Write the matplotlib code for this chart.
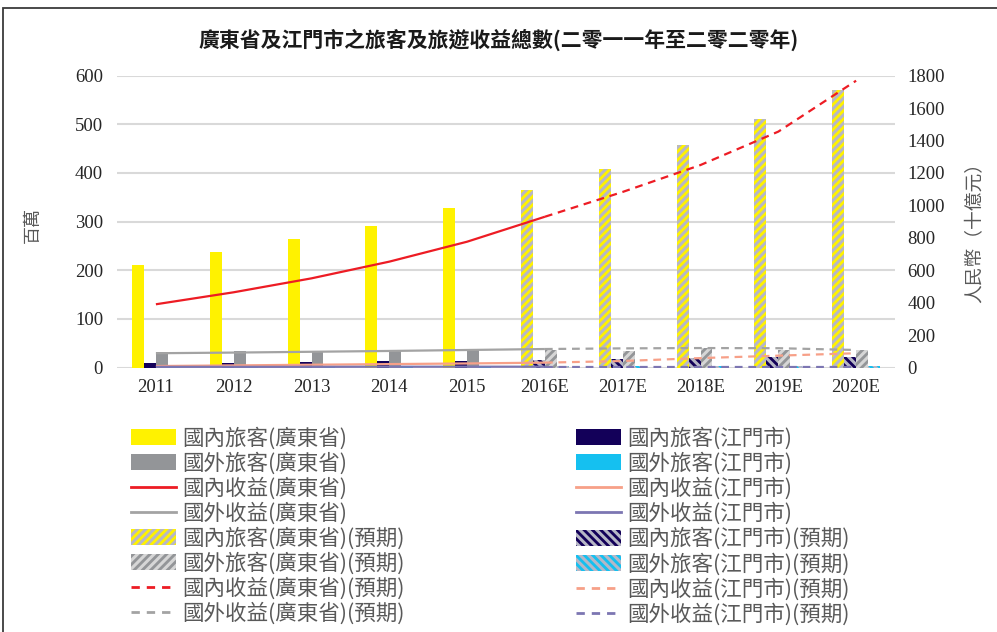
import matplotlib

matplotlib.use("Agg")
import matplotlib.pyplot as plt
from matplotlib import patches
from matplotlib.lines import Line2D
import numpy as np

# ---- data -------------------------------------------------------------
YEARS = ["2011", "2012", "2013", "2014", "2015",
         "2016E", "2017E", "2018E", "2019E", "2020E"]
N_ACTUAL = 5  # first five years are actual, rest are forecasts (bars)

# visitors, millions (left axis)
dom_visitors_gd = [211, 237, 264, 291, 328, 365, 408, 458, 511, 571]
dom_visitors_jm = [9, 9, 11, 13, 13, 15, 17.5, 20, 22, 22]
for_visitors_gd = [31, 34, 32.5, 35, 37, 36, 34.5, 39.5, 37, 36]
for_visitors_jm = [2, 2, 2, 2.5, 2.5, 2.5, 2.5, 3, 3, 3]

# revenue, RMB billions (right axis)
dom_revenue_gd = [390, 464, 550, 653, 776, 930, 1083, 1249, 1455, 1769]
dom_revenue_jm = [9, 13, 17, 21, 25, 30, 40, 58, 73, 88]
for_revenue_gd = [88, 92, 97, 102, 108, 114, 118, 120, 119, 108]
for_revenue_jm = [4, 4, 4, 5, 5, 5, 5, 5, 5, 5]

LEGEND_GD = ["國內旅客(廣東省)", "國外旅客(廣東省)", "國內收益(廣東省)", "國外收益(廣東省)",
             "國內旅客(廣東省)(預期)", "國外旅客(廣東省)(預期)",
             "國內收益(廣東省)(預期)", "國外收益(廣東省)(預期)"]
LEGEND_JM = ["國內旅客(江門市)", "國外旅客(江門市)", "國內收益(江門市)", "國外收益(江門市)",
             "國內旅客(江門市)(預期)", "國外旅客(江門市)(預期)",
             "國內收益(江門市)(預期)", "國外收益(江門市)(預期)"]

TITLE = "廣東省及江門市之旅客及旅遊收益總數(二零一一年至二零二零年)"

# ---- style ------------------------------------------------------------
C = {
    "yellow": "#FFF200",
    "navy": "#130059",
    "gray_bar": "#939598",
    "cyan": "#15C0F0",
    "red": "#ED1C24",
    "gray_line": "#A3A3A3",
    "salmon": "#F7A088",
    "purple": "#7C76B2",
    "stripe": "#B7B7C6",
    "stripe_light": "#D6D6D6",
    "grid": "#D9D9D9",
    "text": "#595959",
}
CJK = ["Noto Sans CJK TC", "DejaVu Sans"]
SERIF = "Liberation Serif"

plt.rcParams["hatch.linewidth"] = 2.2

fig = plt.figure(figsize=(9.97, 6.32), dpi=100)
ax = fig.add_axes([117 / 997, 1 - 367.5 / 632, (895 - 117) / 997, (367.5 - 75.7) / 632])
ax2 = ax.twinx()

x = np.arange(len(YEARS))
w = 0.154
act = x[:N_ACTUAL]
fc = x[N_ACTUAL:]

bar_specs = [
    (dom_visitors_gd, -1.5, C["yellow"], C["stripe"], "////"),
    (dom_visitors_jm, -0.5, C["navy"], C["stripe"], "\\\\\\\\"),
    (for_visitors_gd, 0.5, C["gray_bar"], C["stripe_light"], "////"),
    (for_visitors_jm, 1.5, C["cyan"], C["stripe"], "\\\\\\\\"),
]
for vals, off, col, stripe, hatch in bar_specs:
    v = np.array(vals, dtype=float)
    ax.bar(act + off * w, v[:N_ACTUAL], width=w, color=col, linewidth=0, zorder=2)
    ax.bar(fc + off * w, v[N_ACTUAL:], width=w, facecolor=col, edgecolor=stripe,
           hatch=hatch, linewidth=0, zorder=2)

line_specs = [
    (dom_revenue_gd, C["red"], 1.6),
    (for_revenue_gd, C["gray_line"], 1.6),
    (dom_revenue_jm, C["salmon"], 1.6),
    (for_revenue_jm, C["purple"], 1.6),
]
split = N_ACTUAL  # solid through 2016E, dashed afterwards
for vals, col, lw in line_specs:
    v = np.array(vals, dtype=float)
    ax2.plot(x[:split + 1], v[:split + 1], color=col, lw=lw, solid_capstyle="butt")
    ax2.plot(x[split:], v[split:], color=col, lw=lw, dashes=(3.5, 2.6))

ax.set_xlim(-0.5, len(YEARS) - 0.5)
ax.set_ylim(0, 600)
ax2.set_ylim(0, 1800)
ax.set_yticks(np.arange(0, 601, 100))
ax2.set_yticks(np.arange(0, 1801, 200))
ax.set_xticks(x)
ax.set_xticklabels(YEARS)
ax.grid(axis="y", color=C["grid"], lw=1.5, zorder=0)
ax.set_axisbelow(True)
for a in (ax, ax2):
    for s in a.spines.values():
        s.set_visible(False)
    a.tick_params(length=0, labelsize=13.5, labelcolor="#262626")
    for lab in a.get_xticklabels() + a.get_yticklabels():
        lab.set_fontfamily(SERIF)
ax.tick_params(axis="y", pad=10)
ax.tick_params(axis="x", pad=8)
ax2.tick_params(axis="y", pad=9)

fig.text(33 / 997, 1 - 225 / 632, "百萬", rotation=90, ha="center", va="center",
         fontsize=13, color=C["text"], family=CJK)
fig.text(975 / 997, 1 - 228 / 632, "人民幣（十億元）", rotation=90, ha="center",
         va="center", fontsize=13.5, color=C["text"], family=CJK)
fig.text(499 / 997, 1 - 40 / 632, TITLE, ha="center", va="center", fontsize=15,
         fontweight="bold", color="#1A1A1A", family=CJK)

# outer frame, running past the right and bottom edges
fig.patches.append(patches.Rectangle((3 / 997, -0.2), 1.2, 1.2 - 8 / 632,
                                     transform=fig.transFigure, fill=False,
                                     edgecolor="#3A3A3A", lw=1.3))


def handles(cols, stripes, hatches, line_cols):
    hs = [patches.Patch(facecolor=cols[0], linewidth=0),
          patches.Patch(facecolor=cols[1], linewidth=0),
          Line2D([], [], color=line_cols[0], lw=2),
          Line2D([], [], color=line_cols[1], lw=2),
          patches.Patch(facecolor=cols[0], edgecolor=stripes[0], hatch=hatches[0], linewidth=0),
          patches.Patch(facecolor=cols[1], edgecolor=stripes[1], hatch=hatches[1], linewidth=0),
          Line2D([], [], color=line_cols[0], lw=2, dashes=(3, 2.5)),
          Line2D([], [], color=line_cols[1], lw=2, dashes=(3, 2.5))]
    return hs


h_gd = handles([C["yellow"], C["gray_bar"]], [C["stripe"], C["stripe_light"]],
               ["////", "////"], [C["red"], C["gray_line"]])
h_jm = handles([C["navy"], C["cyan"]], [C["stripe"], C["stripe"]],
               ["\\\\\\\\", "\\\\\\\\"], [C["salmon"], C["purple"]])

leg_kw = dict(loc="upper left", frameon=False, borderpad=0, borderaxespad=0,
              handlelength=2.1, handleheight=0.75, handletextpad=0.3,
              labelspacing=0.12, labelcolor=C["text"],
              prop={"family": CJK, "size": 15.5})
fig.legend(h_gd, LEGEND_GD, bbox_to_anchor=(131 / 997, 1 - 427 / 632), **leg_kw)
fig.legend(h_jm, LEGEND_JM, bbox_to_anchor=(576 / 997, 1 - 427 / 632), **leg_kw)

fig.savefig("out.png", dpi=100)
